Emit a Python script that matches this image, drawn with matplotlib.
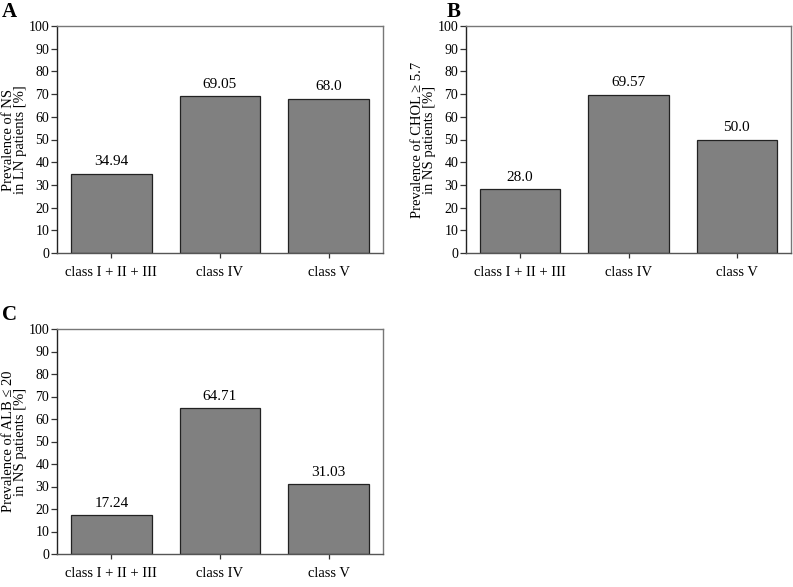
import matplotlib.pyplot as plt
import numpy as np

plt.rcParams['font.family'] = ['Liberation Serif', 'DejaVu Serif']

categories = ['class I + II + III', 'class IV', 'class V']
nephrotic = [34.94, 69.05, 68.0]
cholesterol = [28.0, 69.57, 50.0]
albumin = [17.24, 64.71, 31.03]
labels_a = ['34.94', '69.05', '68.0']
labels_b = ['28.0', '69.57', '50.0']
labels_c = ['17.24', '64.71', '31.03']

W, H = 793, 587
fig = plt.figure(figsize=(W / 100, H / 100), dpi=100)


def panel(box, values, texts, ylabel, letter, letter_xy):
    x0, y0, x1, y1 = box
    ax = fig.add_axes([x0 / W, 1 - y1 / H, (x1 - x0) / W, (y1 - y0) / H])
    x = np.arange(len(categories))
    ax.bar(x, values, width=0.74, color='#808080', edgecolor='#222222', linewidth=0.9)
    for xi, v, t in zip(x, values, texts):
        ax.text(xi, v + 2.5, t, ha='center', va='bottom', fontsize=11)
    ax.set_xlim(-0.5, 2.5)
    ax.set_ylim(0, 100)
    ax.set_yticks(range(0, 101, 10))
    ax.set_xticks(x)
    ax.set_xticklabels(categories)
    ax.tick_params(axis='x', labelsize=10.5, length=3.5, width=0.9,
                   color='#333333', pad=6)
    ax.tick_params(axis='y', labelsize=10, length=4.5, width=0.9,
                   color='#333333', pad=1)
    for s in ax.spines.values():
        s.set_color('#777777')
        s.set_linewidth(1.0)
    ax.spines['left'].set_color('#222222')
    ax.spines['bottom'].set_color('#555555')
    ax.set_ylabel(ylabel, fontsize=10.5, linespacing=0.95, labelpad=1)
    fig.text(letter_xy[0] / W, 1 - letter_xy[1] / H, letter, fontsize=15,
             fontweight='bold', ha='left', va='top')
    return ax


panel((57, 26, 383, 253), nephrotic, labels_a,
      'Prevalence of NS\nin LN patients [%]', 'A', (2, 2))
panel((466, 26, 791, 253), cholesterol, labels_b,
      'Prevalence of CHOL \u2265 5.7\nin NS patients [%]', 'B', (447, 2))
panel((57, 329, 383, 554), albumin, labels_c,
      'Prevalence of ALB \u2264 20\nin NS patients [%]', 'C', (2, 305))

fig.savefig('out.png', dpi=100)
